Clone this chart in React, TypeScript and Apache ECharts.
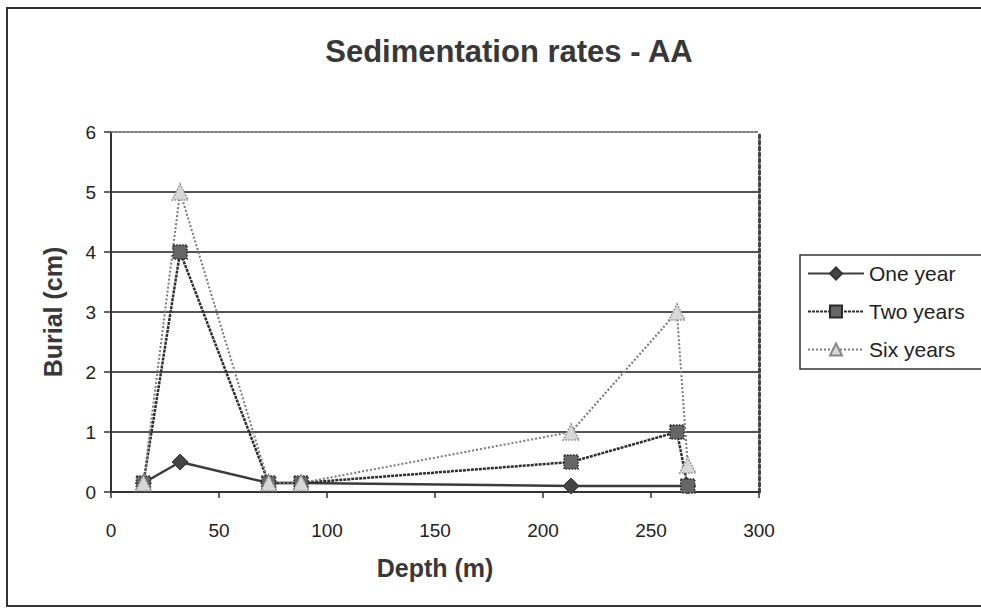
import React, { useEffect, useRef } from "react";
import * as echarts from "echarts";

const titleText = "Sedimentation rates - AA";
const xName = "Depth (m)";
const yName = "Burial (cm)";
const seriesNames = ["One year", "Two years", "Six years"];

const depthOne = [15, 32, 73, 88, 213, 267];
const oneYear = [0.15, 0.5, 0.15, 0.15, 0.1, 0.1];

const depthMulti = [15, 32, 73, 88, 213, 262, 267];
const twoYears = [0.15, 4, 0.15, 0.15, 0.5, 1, 0.1];
const sixYears = [0.15, 5, 0.15, 0.15, 1, 3, 0.45];

const FONT = "'Liberation Sans', Arial, Helvetica, sans-serif";

const pairs = (xs: number[], ys: number[]) => xs.map((x, i) => [x, ys[i]]);

export default function App() {
  const ref = useRef<HTMLDivElement>(null);
  useEffect(() => {
    if (!ref.current) return;
    const chart = echarts.init(ref.current, undefined, { renderer: "svg" });
    chart.setOption({
      animation: false,
      backgroundColor: "#ffffff",
      textStyle: { fontFamily: FONT },
      title: {
        text: titleText,
        left: 504,
        textAlign: "center",
        top: 31,
        textStyle: { fontFamily: FONT, fontSize: 31, fontWeight: "bold", color: "#383838" },
      },
      graphic: [
        {
          type: "rect",
          shape: { x: 7, y: 8, width: 990, height: 598 },
          style: { fill: "none", stroke: "#333", lineWidth: 2 },
          silent: true,
        },
      ],
      legend: {
        orient: "vertical",
        left: 800,
        top: 255,
        padding: [8, 24, 9, 7],
        itemWidth: 56,
        itemHeight: 15,
        itemGap: 17,
        borderColor: "#333",
        borderWidth: 1.5,
        backgroundColor: "#fff",
        textStyle: { fontFamily: FONT, fontSize: 21, color: "#222" },
        data: seriesNames,
      },
      grid: { left: 111, right: 222, top: 132, bottom: 120 },
      xAxis: [
        {
          type: "value",
          min: 0,
          max: 300,
          interval: 50,
          name: xName,
          nameLocation: "middle",
          nameGap: 63,
          nameTextStyle: { fontFamily: FONT, fontSize: 25, fontWeight: "bold", color: "#383838" },
          axisLine: { show: true, onZero: false, lineStyle: { color: "#333", width: 2 } },
          axisTick: { show: true, inside: false, length: 6, lineStyle: { color: "#333", width: 1.5 } },
          axisLabel: { fontFamily: FONT, fontSize: 19, color: "#222", margin: 29 },
          splitLine: { show: false },
        },
        {
          type: "value",
          position: "top",
          min: 0,
          max: 300,
          interval: 50,
          axisLine: { show: true, onZero: false, lineStyle: { color: "#777", width: 2, type: "dotted" } },
          axisTick: { show: false },
          axisLabel: { show: false },
          splitLine: { show: false },
        },
      ],
      yAxis: [
        {
          type: "value",
          min: 0,
          max: 6,
          interval: 1,
          name: yName,
          nameLocation: "middle",
          nameGap: 46,
          nameTextStyle: { fontFamily: FONT, fontSize: 25, fontWeight: "bold", color: "#383838" },
          axisLine: { show: true, onZero: false, lineStyle: { color: "#333", width: 2 } },
          axisTick: { show: true, inside: false, length: 7, lineStyle: { color: "#333", width: 1.5 } },
          axisLabel: { fontFamily: FONT, fontSize: 19, color: "#222", margin: 15 },
          splitLine: { show: true, showMinLine: false, showMaxLine: false, lineStyle: { color: "#1a1a1a", width: 1.5 } },
        },
        {
          type: "value",
          position: "right",
          min: 0,
          max: 6,
          interval: 1,
          axisLine: { show: true, onZero: false, lineStyle: { color: "#444", width: 3, type: "dotted" } },
          axisTick: { show: false },
          axisLabel: { show: false },
          splitLine: { show: false },
        },
      ],
      series: [
        {
          name: seriesNames[0],
          type: "line",
          data: pairs(depthOne, oneYear),
          symbol: "diamond",
          symbolSize: 16,
          lineStyle: { color: "#3c3c3c", width: 2.5, type: "solid" },
          itemStyle: { color: "#454545", borderColor: "#333", borderWidth: 1 },
        },
        {
          name: seriesNames[1],
          type: "line",
          data: pairs(depthMulti, twoYears),
          symbol: "rect",
          symbolSize: 14,
          lineStyle: { color: "#2e2e2e", width: 2.5, type: [3, 1] },
          itemStyle: { color: "#666", borderColor: "#2a2a2a", borderWidth: 1.5, borderType: "dotted" },
        },
        {
          name: seriesNames[2],
          type: "line",
          data: pairs(depthMulti, sixYears),
          symbol: "triangle",
          symbolSize: 16,
          lineStyle: { color: "#7a7a7a", width: 2, type: "dotted" },
          itemStyle: { color: "#d8d8d8", borderColor: "#888", borderWidth: 1.5, borderType: "dotted" },
        },
      ],
    });
    return () => chart.dispose();
  }, []);
  return <div ref={ref} style={{ width: 981, height: 612, position: "absolute", left: 0, top: 0 }} />;
}
